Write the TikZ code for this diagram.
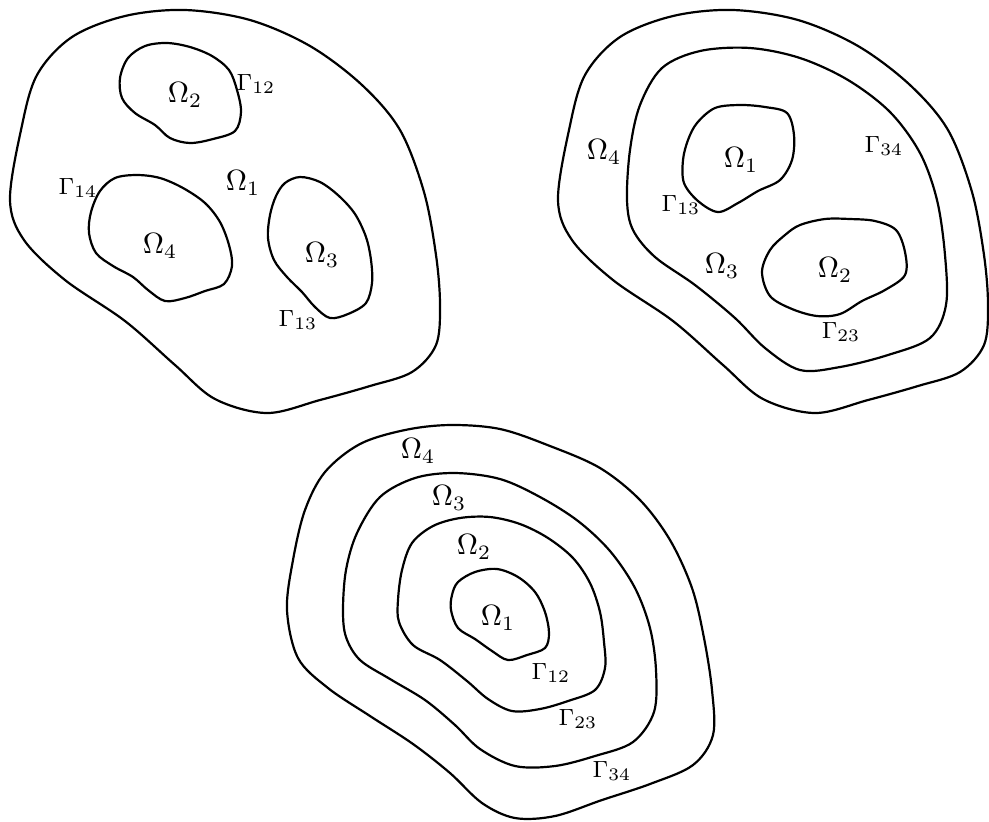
\documentclass[tikz,border=0pt]{standalone}
\usepackage{amsmath}

\begin{document}
\begin{tikzpicture}[
    x=0.012cm, y=-0.012cm,
    bnd/.style={draw=black, line width=0.75pt},
    curve/.style={smooth cycle, tension=0.55},
    dom/.style={inner sep=0pt},
    itf/.style={inner sep=0pt, font=\footnotesize}
]
\useasboundingbox (0,0) rectangle (989,821);

% Left: three inclusions in Omega_1
\draw[bnd] plot[curve] coordinates {(10,200) (21,130) (37,75) (72,37) (125,16) (185,10) (250,20) (310,46) (362,85) (400,130) (424,192) (436,255) (440,305) (436,345) (412,372) (370,386) (320,400) (267,413) (215,399) (175,365) (125,321) (65,280) (24,240)};
\draw[bnd] plot[curve] coordinates {(145,46) (167,43) (190,47) (212,56) (229,70) (237,90) (241,112) (235,131) (213,139) (190,143) (170,138) (155,125) (135,113) (122,98) (120,78) (128,58)};
\draw[bnd] plot[curve] coordinates {(115,178) (137,175) (160,178) (183,188) (205,203) (220,222) (229,245) (232,266) (224,284) (205,291) (185,298) (165,301) (148,290) (133,277) (113,266) (96,253) (89,233) (91,212) (100,191)};
\draw[bnd] plot[curve] coordinates {(285,183) (300,177) (320,182) (339,196) (355,214) (366,237) (371,260) (372,283) (366,303) (348,314) (330,318) (315,307) (302,292) (287,277) (274,260) (268,238) (270,215) (276,196)};

\node[dom] (l2) at (185,95) {$\Omega_2$};
\node[dom] (l1) at (243,183) {$\Omega_1$};
\node[dom] (l4) at (160,246) {$\Omega_4$};
\node[dom] (l3) at (322,255) {$\Omega_3$};
\node[itf] (lg12) at (256,84) {$\Gamma_{12}$};
\node[itf] (lg14) at (78,188) {$\Gamma_{14}$};
\node[itf] (lg13) at (298,320) {$\Gamma_{13}$};

% Right: two inclusions, two layers
\draw[bnd, xshift=548*0.012cm] plot[curve] coordinates {(10,200) (21,130) (37,75) (72,37) (125,16) (185,10) (250,20) (310,46) (362,85) (400,130) (424,192) (436,255) (440,305) (436,345) (412,372) (370,386) (320,400) (267,413) (215,399) (175,365) (125,321) (65,280) (24,240)};
\draw[bnd] plot[curve] coordinates {(627,200) (630,150) (640,105) (662,68) (700,51) (750,48) (800,58) (848,80) (890,112) (920,153) (937,200) (945,255) (946,305) (930,338) (888,355) (840,367) (800,370) (765,348) (735,318) (695,285) (655,257) (633,230)};
\draw[bnd] plot[curve] coordinates {(697,123) (715,108) (740,105) (765,107) (787,113) (794,135) (792,160) (780,180) (758,191) (738,203) (718,212) (698,201) (684,183) (683,160) (688,140)};
\draw[bnd] plot[curve] coordinates {(800,225) (825,219) (850,219) (875,221) (896,230) (905,252) (905,275) (885,290) (862,301) (840,314) (817,316) (792,309) (770,296) (762,272) (770,250) (785,235)};

\node[dom] (r4) at (604,152) {$\Omega_4$};
\node[dom] (r1) at (741,160) {$\Omega_1$};
\node[dom] (r3) at (722,266) {$\Omega_3$};
\node[dom] (r2) at (835,270) {$\Omega_2$};
\node[itf] (rg34) at (884,146) {$\Gamma_{34}$};
\node[itf] (rg13) at (681,205) {$\Gamma_{13}$};
\node[itf] (rg23) at (841,332) {$\Gamma_{23}$};

% Bottom: nested layers
\draw[bnd] plot[curve] coordinates {(287,610) (293,560) (305,510) (325,472) (360,444) (405,430) (450,425) (500,429) (550,446) (600,468) (640,500) (670,540) (692,588) (704,638) (712,690) (713,735) (693,765) (650,784) (602,800) (555,816) (515,818) (482,803) (450,773) (413,744) (370,716) (328,688) (298,658)};
\draw[bnd] plot[curve] coordinates {(343,610) (346,570) (357,533) (380,497) (415,478) (455,473) (500,479) (540,497) (578,521) (610,551) (635,588) (650,628) (656,670) (654,712) (633,742) (595,756) (555,766) (515,766) (480,749) (455,725) (425,700) (390,679) (360,660) (346,637)};
\draw[bnd] plot[curve] coordinates {(398,600) (402,570) (412,543) (433,526) (460,518) (490,517) (520,524) (548,538) (573,558) (590,583) (600,612) (604,642) (605,668) (595,690) (568,701) (540,709) (512,711) (488,699) (467,681) (440,660) (413,645) (399,622)};
\draw[bnd] plot[curve] coordinates {(458,582) (475,572) (497,569) (518,577) (535,592) (545,612) (549,633) (545,648) (527,655) (508,660) (492,651) (475,639) (458,628) (451,610) (452,595)};

\node[dom] (b4) at (418,451) {$\Omega_4$};
\node[dom] (b3) at (449,498) {$\Omega_3$};
\node[dom] (b2) at (474,547) {$\Omega_2$};
\node[dom] (b1) at (498,618) {$\Omega_1$};
\node[itf] (bg12) at (551,673) {$\Gamma_{12}$};
\node[itf] (bg23) at (578,719) {$\Gamma_{23}$};
\node[itf] (bg34) at (612,771) {$\Gamma_{34}$};

\end{tikzpicture}
\end{document}
